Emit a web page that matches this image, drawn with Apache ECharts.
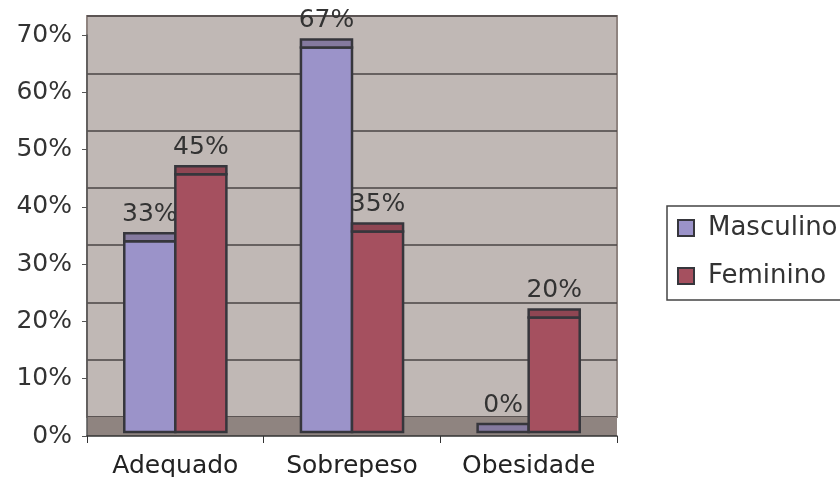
<!DOCTYPE html>
<html>
<head>
<meta charset="utf-8">
<script src="https://cdn.jsdelivr.net/npm/echarts@6/dist/echarts.min.js"></script>
<style>
html,body{margin:0;padding:0;background:#fff;}
#chart{width:840px;height:477px;}
</style>
</head>
<body>
<div id="chart"></div>
<script>
const categories = ['Adequado', 'Sobrepeso', 'Obesidade'];
const masculino = [0.333, 0.671, 0.0];
const feminino = [0.45, 0.35, 0.20];
const yMax = 0.7;
const yInterval = 0.1;

const FONT = 'DejaVu Sans';
const TEXT = '#333333';
const EDGE = '#36363c';

function makeRender(side, fill, capFill) {
  return function (params, api) {
    const i = api.value(0);
    const v = api.value(1);
    const top = api.coord([i, v]);
    const base = api.coord([i, 0]);
    const band = api.size([1, 0])[0];
    const w = band * 0.289;
    const x = side < 0 ? top[0] - w : top[0];
    const lift = 4;
    const frontTop = top[1] - lift;
    const bottom = base[1] - lift;
    const capH = 8;
    const children = [];
    if (bottom - frontTop > 0.5) {
      children.push({
        type: 'rect',
        shape: { x: x, y: frontTop, width: w, height: bottom - frontTop },
        style: { fill: fill, stroke: EDGE, lineWidth: 2.5 }
      });
    }
    children.push({
      type: 'rect',
      shape: { x: x, y: frontTop - capH, width: w, height: capH },
      style: { fill: capFill, stroke: EDGE, lineWidth: 2.5 }
    });
    children.push({
      type: 'text',
      x: x + w / 2,
      y: frontTop - capH - 19,
      style: {
        text: Math.round(v * 100) + '%',
        fill: TEXT,
        font: '25px "' + FONT + '"',
        align: 'center',
        verticalAlign: 'middle'
      }
    });
    return { type: 'group', children: children };
  };
}

const chart = echarts.init(document.getElementById('chart'), null, { renderer: 'canvas' });

const pctFmt = function (val) {
  const r = Math.round(val * 100);
  return (Math.abs(val * 100 - r) < 1e-6 && r % 10 === 0) ? r + '%' : '';
};

chart.setOption({
  animation: false,
  backgroundColor: '#ffffff',
  textStyle: { fontFamily: FONT },
  grid: [
    { left: 87, right: 223, top: 35, bottom: 41, containLabel: false, outerBoundsMode: 'none' },
    { left: 87, right: 223, top: 16, bottom: 60, show: true, backgroundColor: '#c0b8b5', borderColor: '#8f8480', borderWidth: 2, outerBoundsMode: 'none' },
    { left: 87, right: 223, top: 417, bottom: 41, show: true, backgroundColor: '#8f8480', borderWidth: 0, z: 1, outerBoundsMode: 'none' }
  ],
  xAxis: [
    {
      type: 'category', gridIndex: 0, data: categories,
      axisLine: { show: true, lineStyle: { color: '#333333', width: 1.5 } },
      axisTick: { show: true, length: 7, lineStyle: { color: '#333333' } },
      axisLabel: { color: '#222222', fontSize: 25, fontFamily: FONT, margin: 18 },
      z: 3
    },
    { type: 'category', gridIndex: 1, data: categories, show: false },
    { type: 'category', gridIndex: 2, data: categories, show: false }
  ],
  yAxis: [
    {
      type: 'value', gridIndex: 0, min: 0, max: yMax, interval: yInterval,
      axisLine: { show: true, lineStyle: { color: '#555555', width: 1.5 } },
      axisTick: { show: true, length: 5, lineStyle: { color: '#555555' } },
      splitLine: { show: false },
      axisLabel: { color: TEXT, fontSize: 25, fontFamily: FONT, margin: 15, formatter: pctFmt },
      z: 3
    },
    {
      type: 'value', gridIndex: 1, min: 0, max: yMax, interval: yInterval,
      axisLine: { show: false }, axisTick: { show: false }, axisLabel: { show: false },
      splitLine: { show: true, lineStyle: { color: '#4a4545', width: 1.5 } }
    },
    {
      type: 'value', gridIndex: 2, min: 0, max: 1, show: false, splitLine: { show: false }
    }
  ],
  legend: {
    orient: 'vertical',
    left: 667,
    top: 206,
    padding: [9, 40, 11, 10],
    itemGap: 22,
    itemWidth: 30,
    itemHeight: 16,
    borderColor: '#444444',
    borderWidth: 1.5,
    icon: 'path://M0,0h16v16h-16z',
    itemStyle: { borderColor: EDGE, borderWidth: 2 },
    textStyle: { color: TEXT, fontSize: 26, fontFamily: FONT, padding: [0, 0, 0, 2] },
    data: ['Masculino', 'Feminino']
  },
  series: [
    {
      name: 'Masculino', type: 'custom', xAxisIndex: 0, yAxisIndex: 0,
      itemStyle: { color: '#9b93c9' },
      renderItem: makeRender(-1, '#9b93c9', '#857a9f'),
      encode: { x: 0, y: 1 },
      data: masculino.map(function (v, i) { return [i, v]; }),
      z: 5
    },
    {
      name: 'Feminino', type: 'custom', xAxisIndex: 0, yAxisIndex: 0,
      itemStyle: { color: '#a5505f' },
      renderItem: makeRender(1, '#a5505f', '#8f4653'),
      encode: { x: 0, y: 1 },
      data: feminino.map(function (v, i) { return [i, v]; }),
      z: 5
    }
  ]
});
</script>
</body>
</html>
